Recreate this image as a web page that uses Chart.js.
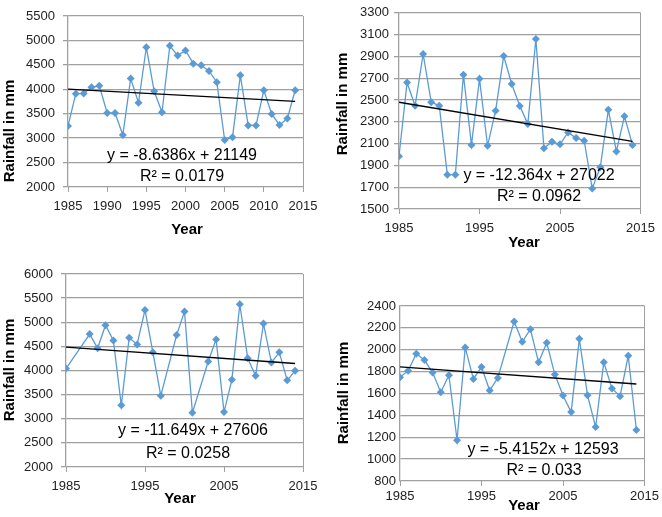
<!DOCTYPE html>
<html>
<head>
<meta charset="utf-8">
<script src="https://cdn.jsdelivr.net/npm/chart.js@4.4.1/dist/chart.umd.min.js"></script>
<style>
  html, body { margin: 0; padding: 0; background: #fff; }
  #page { position: relative; width: 662px; height: 517px; overflow: hidden; }
  .panel { position: absolute; }
</style>
</head>
<body>
<div id="page">
  <canvas class="panel" id="c1" width="331" height="258" style="left:0;top:0"></canvas>
  <canvas class="panel" id="c2" width="331" height="258" style="left:331px;top:0"></canvas>
  <canvas class="panel" id="c3" width="331" height="259" style="left:0;top:258px"></canvas>
  <canvas class="panel" id="c4" width="331" height="259" style="left:331px;top:258px"></canvas>
</div>
<script>
// Annual rainfall, four stations, 1985-2014
const years = [1985, 1986, 1987, 1988, 1989, 1990, 1991, 1992, 1993, 1994,
               1995, 1996, 1997, 1998, 1999, 2000, 2001, 2002, 2003, 2004,
               2005, 2006, 2007, 2008, 2009, 2010, 2011, 2012, 2013, 2014];

const rainTopLeft = [3250, 3910, 3915, 4040, 4070, 3515, 3515, 3065, 4220, 3725,
                     4860, 3960, 3530, 4890, 4690, 4795, 4525, 4490, 4375, 4145,
                     2960, 3020, 4285, 3260, 3260, 3980, 3495, 3270, 3400, 3980];
const rainTopRight = [1985, 2660, 2447, 2922, 2480, 2447, 1815, 1815, 2732, 2088,
                      2694, 2080, 2402, 2903, 2647, 2446, 2280, 3060, 2058, 2117,
                      2094, 2202, 2151, 2127, 1688, 1882, 2410, 2028, 2350, 2088];
const rainBottomLeft = [4040, null, null, 4755, 4460, 4938, 4624, 3280, 4680, 4541,
                        5255, 4376, 3479, null, 4734, 5222, 3124, null, 4186, 4645,
                        3138, 3810, 5375, 4255, 3893, 4972, 4165, 4376, 3796, 3993];
const rainBottomRight = [1748, 1809, 1964, 1906, 1791, 1612, 1767, 1173, 2021, 1733,
                         1842, 1627, 1742, null, 2258, 2073, 2188, 1885, 2064, 1773,
                         1582, 1430, 2100, 1585, 1294, 1885, 1646, 1576, 1945, 1266];

// trendline [slope, intercept, R²] as printed on each panel
const trendTopLeft = [-8.6386, 21149, '0.0179'];
const trendTopRight = [-12.364, 27022, '0.0962'];
const trendBottomLeft = [-11.649, 27606, '0.0258'];
const trendBottomRight = [-5.4152, 12593, '0.033'];

// y axis ranges [min, max, step]
const yRangeTopLeft = [2000, 5500, 500];
const yRangeTopRight = [1500, 3300, 200];
const yRangeBottomLeft = [2000, 6000, 500];
const yRangeBottomRight = [800, 2400, 200];

// x axis [min, max, step]
const xRangeTopLeft = [1985, 2015, 5];
const xRangeOther = [1985, 2015, 10];

const FONT = '"Liberation Sans", Arial, sans-serif';
const GRID = '#a0a0a0';
const BLUE = '#5b9bd5';

// axis titles and the trendline label, placed like the original
const panelText = {
    id: 'panelText',
    afterDraw(chart, args, opts) {
        const ctx = chart.ctx;
        ctx.save();
        ctx.fillStyle = '#000';
        ctx.textAlign = 'center';
        ctx.textBaseline = 'middle';
        ctx.font = '16px ' + FONT;
        opts.equation.forEach(l => ctx.fillText(l.text, l.x, l.y));
        ctx.font = 'bold 15px ' + FONT;
        ctx.fillText('Year', opts.xTitle[0], opts.xTitle[1]);
        ctx.translate(opts.yTitle[0], opts.yTitle[1]);
        ctx.rotate(-Math.PI / 2);
        ctx.fillText('Rainfall in mm', 0, 0);
        ctx.restore();
    }
};

function makeChart(id, values, trend, yRange, xRange, box) {
    const [slope, intercept, r2] = trend;
    const first = years[0], last = years[years.length - 1];
    const points = years.map((yr, i) => ({ x: yr, y: values[i] }));
    const trendPoints = [
        { x: first, y: slope * first + intercept },
        { x: last, y: slope * last + intercept },
    ];

    return new Chart(document.getElementById(id), {
        type: 'line',
        data: {
            datasets: [
                {
                    data: trendPoints,
                    borderColor: '#000',
                    borderWidth: 1.3,
                    pointRadius: 0,
                    order: 0,
                },
                {
                    data: points,
                    borderColor: BLUE,
                    backgroundColor: BLUE,
                    borderWidth: 1.3,
                    pointStyle: 'rectRot',
                    pointRadius: 4,
                    pointBorderWidth: 0,
                    spanGaps: true,
                    tension: 0,
                    order: 1,
                },
            ],
        },
        options: {
            responsive: false,
            animation: false,
            layout: { padding: { left: 0, top: box.top, right: box.right, bottom: box.bottom } },
            plugins: {
                legend: { display: false },
                tooltip: { enabled: false },
                panelText: {
                    equation: [
                        { text: `y = ${slope}x + ${intercept}`, x: box.eq[0], y: box.eq[1] },
                        { text: `R² = ${r2}`, x: box.r2[0], y: box.r2[1] },
                    ],
                    xTitle: box.xTitle,
                    yTitle: box.yTitle,
                },
            },
            scales: {
                x: {
                    type: 'linear',
                    min: xRange[0],
                    max: xRange[1],
                    afterFit: s => { s.height = 30; },
                    ticks: {
                        stepSize: xRange[2],
                        autoSkip: false,
                        maxRotation: 0,
                        padding: box.xPad,
                        color: '#222',
                        font: { family: FONT, size: 13 },
                        callback: v => String(v),
                    },
                    grid: {
                        tickLength: 5,
                        tickColor: GRID,
                        color: c => (c.tick && c.tick.value === xRange[1]) ? GRID : 'rgba(0,0,0,0)',
                    },
                    border: { display: false },
                },
                y: {
                    min: yRange[0],
                    max: yRange[1],
                    afterFit: s => { s.width = box.left; },
                    ticks: {
                        stepSize: yRange[2],
                        padding: box.yPad,
                        color: '#222',
                        font: { family: FONT, size: 13 },
                        callback: v => String(v),
                    },
                    grid: { color: GRID, lineWidth: 1.3, tickLength: box.yTick },
                    border: { color: GRID, width: 1.3 },
                },
            },
        },
        plugins: [panelText],
    });
}

makeChart('c1', rainTopLeft, trendTopLeft, yRangeTopLeft, xRangeTopLeft, {
    left: 68, top: 16, right: 28, bottom: 41, xPad: 7, yPad: 8, yTick: 5,
    eq: [182, 156], r2: [182, 177], xTitle: [187, 230], yTitle: [10, 131],
});
makeChart('c2', rainTopRight, trendTopRight, yRangeTopRight, xRangeOther, {
    left: 68, top: 9, right: 16, bottom: 19, xPad: 7, yPad: 5, yTick: 5,
    eq: [208, 176], r2: [208, 197], xTitle: [193, 243], yTitle: [12, 104],
});
makeChart('c3', rainBottomLeft, trendBottomLeft, yRangeBottomLeft, xRangeOther, {
    left: 66, top: 16, right: 28, bottom: 20, xPad: 7, yPad: 8, yTick: 5,
    eq: [193, 173], r2: [188, 196], xTitle: [180, 241], yTitle: [10, 112],
});
makeChart('c4', rainBottomRight, trendBottomRight, yRangeBottomRight, xRangeOther, {
    left: 69, top: 48, right: 16, bottom: 6, xPad: 3, yPad: 4, yTick: 0,
    eq: [212, 192], r2: [213, 213], xTitle: [193, 248], yTitle: [13, 135],
});
</script>
</body>
</html>
